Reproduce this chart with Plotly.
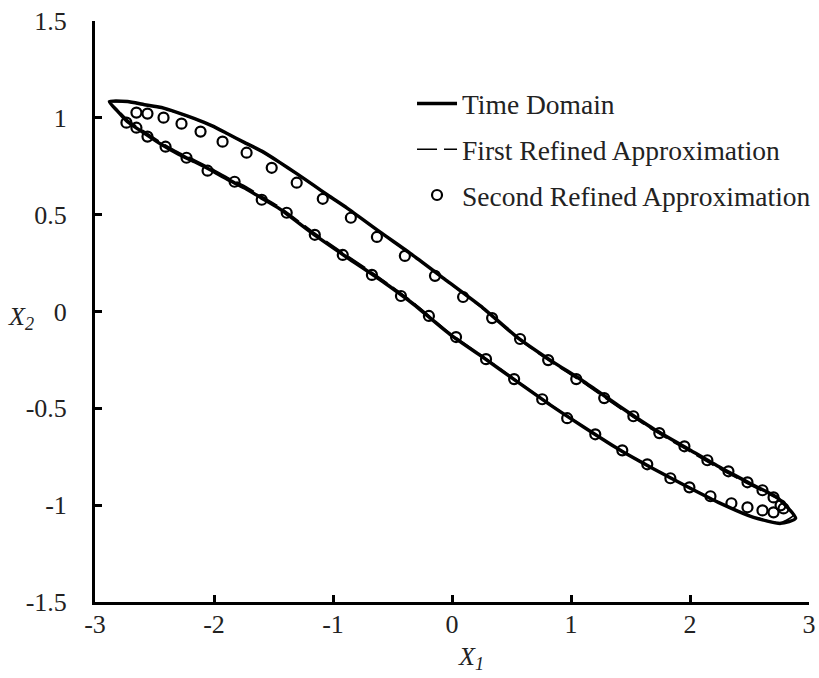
import plotly.graph_objects as go

# Phase-plane limit cycle (X1, X2): time-domain solution, upper and lower branches
time_upper_x1 = [-2.879, -2.727, -2.584, -2.441, -2.306, -2.163, -2.020, -1.886, -1.742, -1.599,
                 -1.448, -1.305, -1.170, -1.027, -0.884, -0.606, -0.328, -0.042, 0.261, 0.547,
                 0.825, 1.103, 1.397, 1.692, 1.978, 2.256, 2.534, 2.736, 2.887]
time_upper_x2 = [1.084, 1.084, 1.068, 1.053, 1.027, 0.996, 0.960, 0.918, 0.872, 0.828,
                 0.770, 0.712, 0.655, 0.594, 0.535, 0.411, 0.290, 0.158, 0.018, -0.132,
                 -0.251, -0.360, -0.485, -0.605, -0.707, -0.806, -0.897, -0.962, -1.068]
time_lower_x1 = [2.887, 2.761, 2.534, 2.256, 1.978, 1.692, 1.397, 1.103, 0.825, 0.547,
                 0.261, -0.017, -0.328, -0.606, -0.884, -1.170, -1.448, -1.599, -1.742, -1.886,
                 -2.020, -2.163, -2.306, -2.441, -2.584, -2.727, -2.811, -2.879]
time_lower_x2 = [-1.068, -1.094, -1.063, -0.991, -0.905, -0.812, -0.710, -0.595, -0.482, -0.362,
                 -0.237, -0.118, 0.040, 0.165, 0.280, 0.402, 0.530, 0.585, 0.638, 0.682,
                 0.728, 0.773, 0.815, 0.862, 0.920, 0.980, 1.035, 1.084]

# First refined approximation
first_upper_x1 = [-2.879, -2.727, -2.584, -2.441, -2.306, -2.163, -2.020, -1.886, -1.742, -1.599,
                  -1.448, -1.305, -1.170, -1.027, -0.884, -0.606, -0.328, -0.042, 0.261, 0.547,
                  0.825, 1.103, 1.397, 1.692, 1.978, 2.256, 2.534, 2.736, 2.870]
first_upper_x2 = [1.080, 1.082, 1.066, 1.051, 1.025, 0.994, 0.958, 0.916, 0.870, 0.826,
                  0.768, 0.710, 0.653, 0.592, 0.533, 0.409, 0.288, 0.156, 0.014, -0.138,
                  -0.258, -0.368, -0.494, -0.614, -0.716, -0.815, -0.905, -0.968, -1.050]
first_lower_x1 = [2.870, 2.761, 2.534, 2.256, 1.978, 1.692, 1.397, 1.103, 0.825, 0.547,
                  0.261, -0.017, -0.328, -0.606, -0.884, -1.170, -1.448, -1.599, -1.742, -1.886,
                  -2.020, -2.163, -2.306, -2.441, -2.584, -2.727, -2.811, -2.879]
first_lower_x2 = [-1.050, -1.090, -1.060, -0.989, -0.903, -0.810, -0.708, -0.593, -0.480, -0.358,
                  -0.232, -0.112, 0.048, 0.174, 0.290, 0.412, 0.540, 0.595, 0.648, 0.692,
                  0.738, 0.783, 0.825, 0.872, 0.930, 0.990, 1.042, 1.080]

# Second refined approximation (discrete points)
second_x1 = [-2.652, -2.559, -2.424, -2.273, -2.113, -1.928, -1.726, -1.515, -1.305, -1.086,
             -0.850, -0.631, -0.396, -0.143, 0.093, 0.337, 0.572, 0.808, 1.044, 1.279,
             1.524, 1.742, 1.953, 2.146, 2.323, 2.483, 2.609, 2.702, 2.761,
             2.786, 2.702, 2.609, 2.483, 2.348, 2.172, 1.995, 1.835, 1.641, 1.431,
             1.204, 0.968, 0.758, 0.522, 0.286, 0.034, -0.194, -0.429, -0.673, -0.918,
             -1.153, -1.389, -1.599, -1.827, -2.054, -2.231, -2.407, -2.559, -2.652, -2.736]
second_x2 = [1.027, 1.022, 1.001, 0.970, 0.929, 0.877, 0.820, 0.742, 0.665, 0.582,
             0.484, 0.385, 0.287, 0.184, 0.075, -0.034, -0.142, -0.251, -0.349, -0.447,
             -0.541, -0.628, -0.696, -0.768, -0.825, -0.882, -0.923, -0.960, -1.001,
             -1.017, -1.037, -1.027, -1.011, -0.990, -0.954, -0.908, -0.861, -0.789, -0.717,
             -0.634, -0.551, -0.453, -0.349, -0.246, -0.132, -0.023, 0.080, 0.189, 0.292,
             0.396, 0.510, 0.577, 0.670, 0.727, 0.794, 0.851, 0.903, 0.949, 0.975]

x_ticks = [-3, -2, -1, 0, 1, 2, 3]
x_tick_labels = ["-3", "-2", "-1", "0", "1", "2", "3"]
y_ticks = [-1.5, -1, -0.5, 0, 0.5, 1, 1.5]
y_tick_labels = ["-1.5", "-1", "-0.5", "0", "0.5", "1", "1.5"]

SERIF = "Liberation Serif"
TEXT = "#222"

fig = go.Figure()

fig.add_trace(go.Scatter(
    x=time_upper_x1 + time_lower_x1[1:],
    y=time_upper_x2 + time_lower_x2[1:],
    mode="lines", name="Time Domain",
    line=dict(color="black", width=3.5, shape="spline", smoothing=0.6),
    legendgroup="a",
))
fig.add_trace(go.Scatter(
    x=first_upper_x1 + first_lower_x1[1:],
    y=first_upper_x2 + first_lower_x2[1:],
    mode="lines", name="First Refined Approximation",
    line=dict(color="black", width=1.6, dash="20px,7px", shape="spline", smoothing=0.6),
    legendgroup="b",
))
fig.add_trace(go.Scatter(
    x=second_x1, y=second_x2,
    mode="markers", name="Second Refined Approximation",
    marker=dict(symbol="circle-open", size=10, color="black", line=dict(width=2.2, color="black")),
    legendgroup="c",
))

axis_common = dict(
    showline=True, linecolor="black", linewidth=3,
    ticks="inside", ticklen=7, tickwidth=2.5, tickcolor="black",
    showgrid=False, zeroline=False,
    tickfont=dict(family=SERIF, size=26, color=TEXT),
)

fig.update_xaxes(range=[-3, 3], tickvals=x_ticks, ticktext=x_tick_labels,
                 ticklabelstandoff=-3, **axis_common)
fig.update_yaxes(range=[-1.5, 1.5], tickvals=y_ticks, ticktext=y_tick_labels,
                 ticklabelstandoff=20, **axis_common)

fig.add_annotation(text="<i>X</i><sub><i>2</i></sub>", xref="paper", yref="paper",
                   x=-0.103, y=0.489, xanchor="center", yanchor="middle", showarrow=False,
                   font=dict(family=SERIF, size=26, color=TEXT))
fig.add_annotation(text="<i>X</i><sub><i>1</i></sub>", xref="paper", yref="paper",
                   x=0.527, y=-0.097, xanchor="center", yanchor="middle", showarrow=False,
                   font=dict(family=SERIF, size=26, color=TEXT))

fig.update_layout(
    width=819, height=678,
    margin=dict(l=95, r=10, t=21, b=76, autoexpand=False),
    paper_bgcolor="white", plot_bgcolor="white",
    showlegend=True,
    legend=dict(x=0.444, y=0.90, xanchor="left", yanchor="top",
                font=dict(family=SERIF, size=27.5, color=TEXT),
                bgcolor="rgba(0,0,0,0)", traceorder="grouped", tracegroupgap=7,
                itemwidth=40),
)

fig.write_html("out.html")
